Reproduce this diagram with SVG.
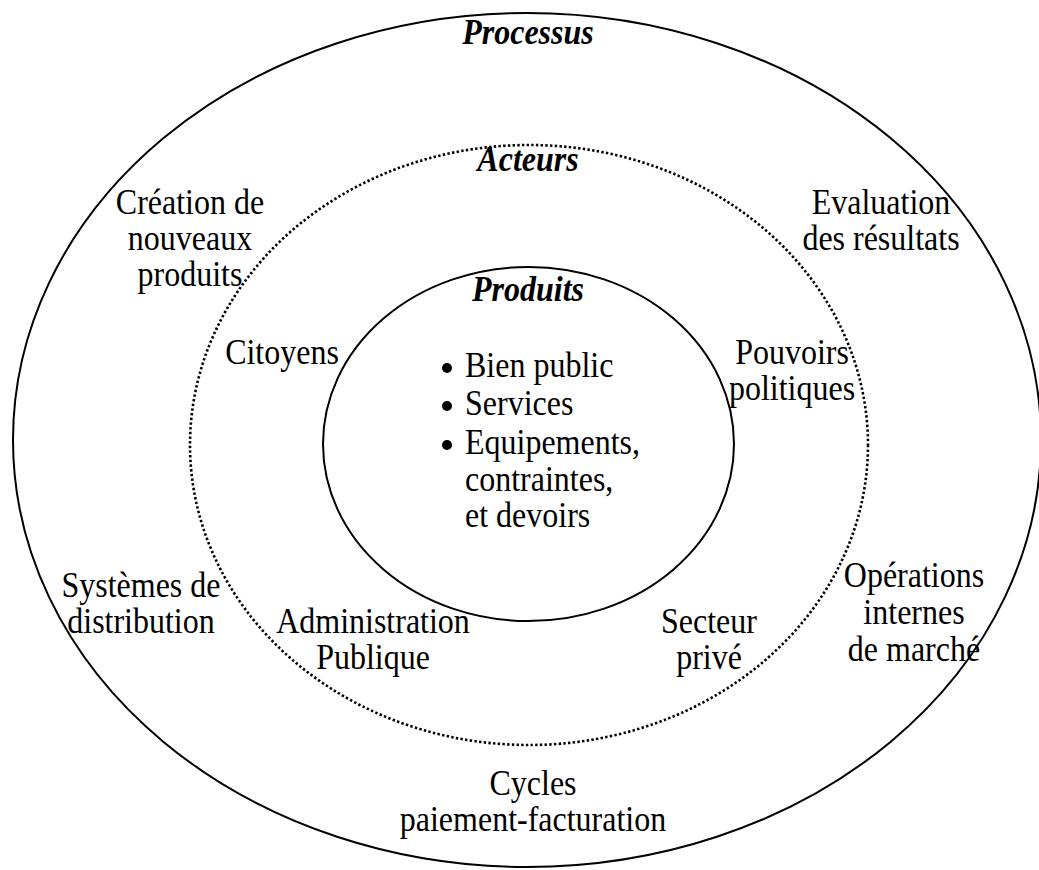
<svg xmlns="http://www.w3.org/2000/svg" width="1039" height="870" viewBox="0 0 1039 870">
  <style>
    .ring { fill: none; stroke: #000; }
    .solid { stroke-width: 2; }
    .dots { stroke-width: 2.6; stroke-dasharray: 2.4 2.3; }
    text { font-size: 32px; fill: #000; text-anchor: middle; }
    .title { font-weight: bold; font-style: italic; }
    .list { text-anchor: start; }
  </style>
  <rect width="1039" height="870" fill="#fff"/>

  <!-- concentric rings -->
  <g id="rings">
    <ellipse id="ring-processus" class="ring solid" cx="527" cy="440" rx="514" ry="427"/>
    <ellipse id="ring-acteurs" class="ring dots" cx="529" cy="445" rx="339" ry="300"/>
    <ellipse id="ring-produits" class="ring solid" cx="528.5" cy="444" rx="205.5" ry="177"/>
  </g>

  <g font-family="Liberation Serif, DejaVu Serif, serif">
  <!-- ring titles -->
  <g id="titles">
    <text class="title" transform="translate(528,44) scale(1,1.1)">Processus</text>
    <text class="title" transform="translate(528,171) scale(1,1.1)">Acteurs</text>
    <text class="title" transform="translate(528,301) scale(1,1.1)">Produits</text>
  </g>

  <!-- processes (outer ring) -->
  <g id="node-creation">
    <text transform="translate(190,214) scale(1,1.1)"><tspan x="0">Création de</tspan><tspan x="0" dy="32.7">nouveaux</tspan><tspan x="0" dy="32.7">produits</tspan></text>
  </g>
  <g id="node-evaluation">
    <text transform="translate(881,214) scale(1,1.1)"><tspan x="0">Evaluation</tspan><tspan x="0" dy="32.7">des résultats</tspan></text>
  </g>
  <g id="node-distribution">
    <text transform="translate(141,597) scale(1,1.1)"><tspan x="0">Systèmes de</tspan><tspan x="0" dy="32.7">distribution</tspan></text>
  </g>
  <g id="node-operations">
    <text transform="translate(914,587) scale(1,1.1)"><tspan x="0">Opérations</tspan><tspan x="0" dy="33.5">internes</tspan><tspan x="0" dy="33.5">de marché</tspan></text>
  </g>
  <g id="node-cycles">
    <text transform="translate(533,795) scale(1,1.1)"><tspan x="0">Cycles</tspan><tspan x="0" dy="32.7">paiement-facturation</tspan></text>
  </g>

  <!-- actors (dotted ring) -->
  <g id="node-citoyens">
    <text transform="translate(282,364) scale(1,1.1)">Citoyens</text>
  </g>
  <g id="node-pouvoirs">
    <text transform="translate(792,364) scale(1,1.1)"><tspan x="0">Pouvoirs</tspan><tspan x="0" dy="32.7">politiques</tspan></text>
  </g>
  <g id="node-administration">
    <text transform="translate(373,633) scale(1,1.1)"><tspan x="0">Administration</tspan><tspan x="0" dy="32.7">Publique</tspan></text>
  </g>
  <g id="node-secteur">
    <text transform="translate(709,633) scale(1,1.1)"><tspan x="0">Secteur</tspan><tspan x="0" dy="32.7">privé</tspan></text>
  </g>

  <!-- products (inner circle) -->
  <g id="node-produits-list">
    <circle cx="447" cy="368" r="5"/>
    <circle cx="447" cy="406" r="5"/>
    <circle cx="447" cy="445" r="5"/>
    <text class="list" transform="translate(465,377) scale(1,1.1)"><tspan x="0">Bien public</tspan><tspan x="0" dy="34.5">Services</tspan><tspan x="0" dy="35.5">Equipements,</tspan><tspan x="0" dy="34">contraintes,</tspan><tspan x="0" dy="32">et devoirs</tspan></text>
  </g>
  </g>
</svg>
